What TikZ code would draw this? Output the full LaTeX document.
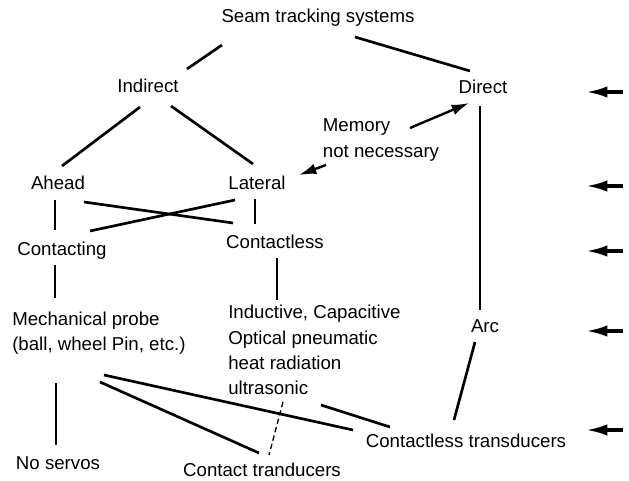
\documentclass[tikz,border=0pt]{standalone}
\usepackage{fontspec}
\setmainfont{Liberation Sans}
\usetikzlibrary{arrows.meta}

\begin{document}
\begin{tikzpicture}[x=0.75pt, y=-0.75pt,
        font=\fontsize{14}{19}\selectfont,
        every node/.style={inner sep=0pt},
        link/.style={line width=2pt},
        tick/.style={line width=1.3pt},
        pointer/.style={line width=1.8pt, -{Latex[length=13pt,width=8pt]}},
        marker/.style={line width=2.4pt, -{Latex[length=16pt,width=8.5pt]}}]
    \useasboundingbox (0,0) rectangle (629,481);
        \node (seam) at (318,18) {Seam tracking systems};
        \node (ind) at (148,86) {Indirect};
        \node (dir) at (483,87) {Direct};
        \node[align=left] (mem) at (381,140) {Memory\\not necessary};
        \node (ahead) at (58,183) {Ahead};
        \node (lat) at (257,183) {Lateral};
        \node (cting) at (62,251) {Contacting};
        \node (cless) at (275,242) {Contactless};
        \node[align=left, anchor=west] (mech) at (12,333) {Mechanical probe\\(ball, wheel Pin, etc.)};
        \node[align=left, anchor=west] (sens) at (228,350) {Inductive, Capacitive\\Optical pneumatic\\heat radiation\\ultrasonic};
        \node (arc) at (485,326) {Arc};
        \node (ctrans) at (466,441) {Contactless transducers};
        \node (noserv) at (58,463) {No servos};
        \node (ktrans) at (262,470) {Contact tranducers};
	\draw[link]
			([shift={(-96,27)}]seam.center) edge ([shift={(39,-17)}]ind.center)
			([shift={(37,19)}]seam.center) edge ([shift={(-13,-16)}]dir.center)
			([shift={(-8,21)}]ind.center) edge ([shift={(4,-17)}]ahead.center)
			([shift={(23,20)}]ind.center) edge ([shift={(-4,-19)}]lat.center)
			([shift={(26,19)}]ahead.center) edge ([shift={(-42,-19)}]cless.center)
			([shift={(28,-20)}]cting.center) edge ([shift={(-22,17)}]lat.center)
			([shift={(-3,19)}]dir.center) edge ([shift={(-5,-16)}]arc.center)
			([shift={(-10,16)}]arc.center) edge ([shift={(-12,-21)}]ctrans.center)
			([shift={(92,42)}]mech.west) edge ([shift={(-113,-11)}]ctrans.center)
			([shift={(88,49)}]mech.west) edge ([shift={(-3,-17)}]ktrans.center)
			([shift={(93,55)}]sens.west) edge ([shift={(-76,-14)}]ctrans.center)
			([shift={(44,50)}]mech.west) edge ([shift={(-2,-18)}]noserv.center);
	\draw[tick]
			([shift={(-3,17)}]ahead.center) edge ([shift={(-7,-21)}]cting.center)
			([shift={(-2,16)}]lat.center) edge ([shift={(-20,-18)}]cless.center)
			([shift={(-7,14)}]cting.center) edge ([shift={(43,-35)}]mech.west)
			([shift={(2,16)}]cless.center) edge ([shift={(49,-50)}]sens.west);
	\draw[tick, line width=1pt, dash pattern=on 4pt off 2.5pt]
			([shift={(55,52)}]sens.west) -- ([shift={(7,-15)}]ktrans.center);
	\draw[pointer] ([shift={(29,-12)}]mem.center) -- ([shift={(-14,16)}]dir.center);
	\draw[pointer] ([shift={(-55,25)}]mem.center) -- ([shift={(42,-8)}]lat.center);
    % side markers
    \foreach \y [count=\i] in {92,186,251,331,430} {
        \coordinate (t\i) at (623,\y);
        \coordinate (h\i) at (586,\y);
        \draw[marker] (t\i) -- (h\i);
    }
    \end{tikzpicture}
\end{document}
